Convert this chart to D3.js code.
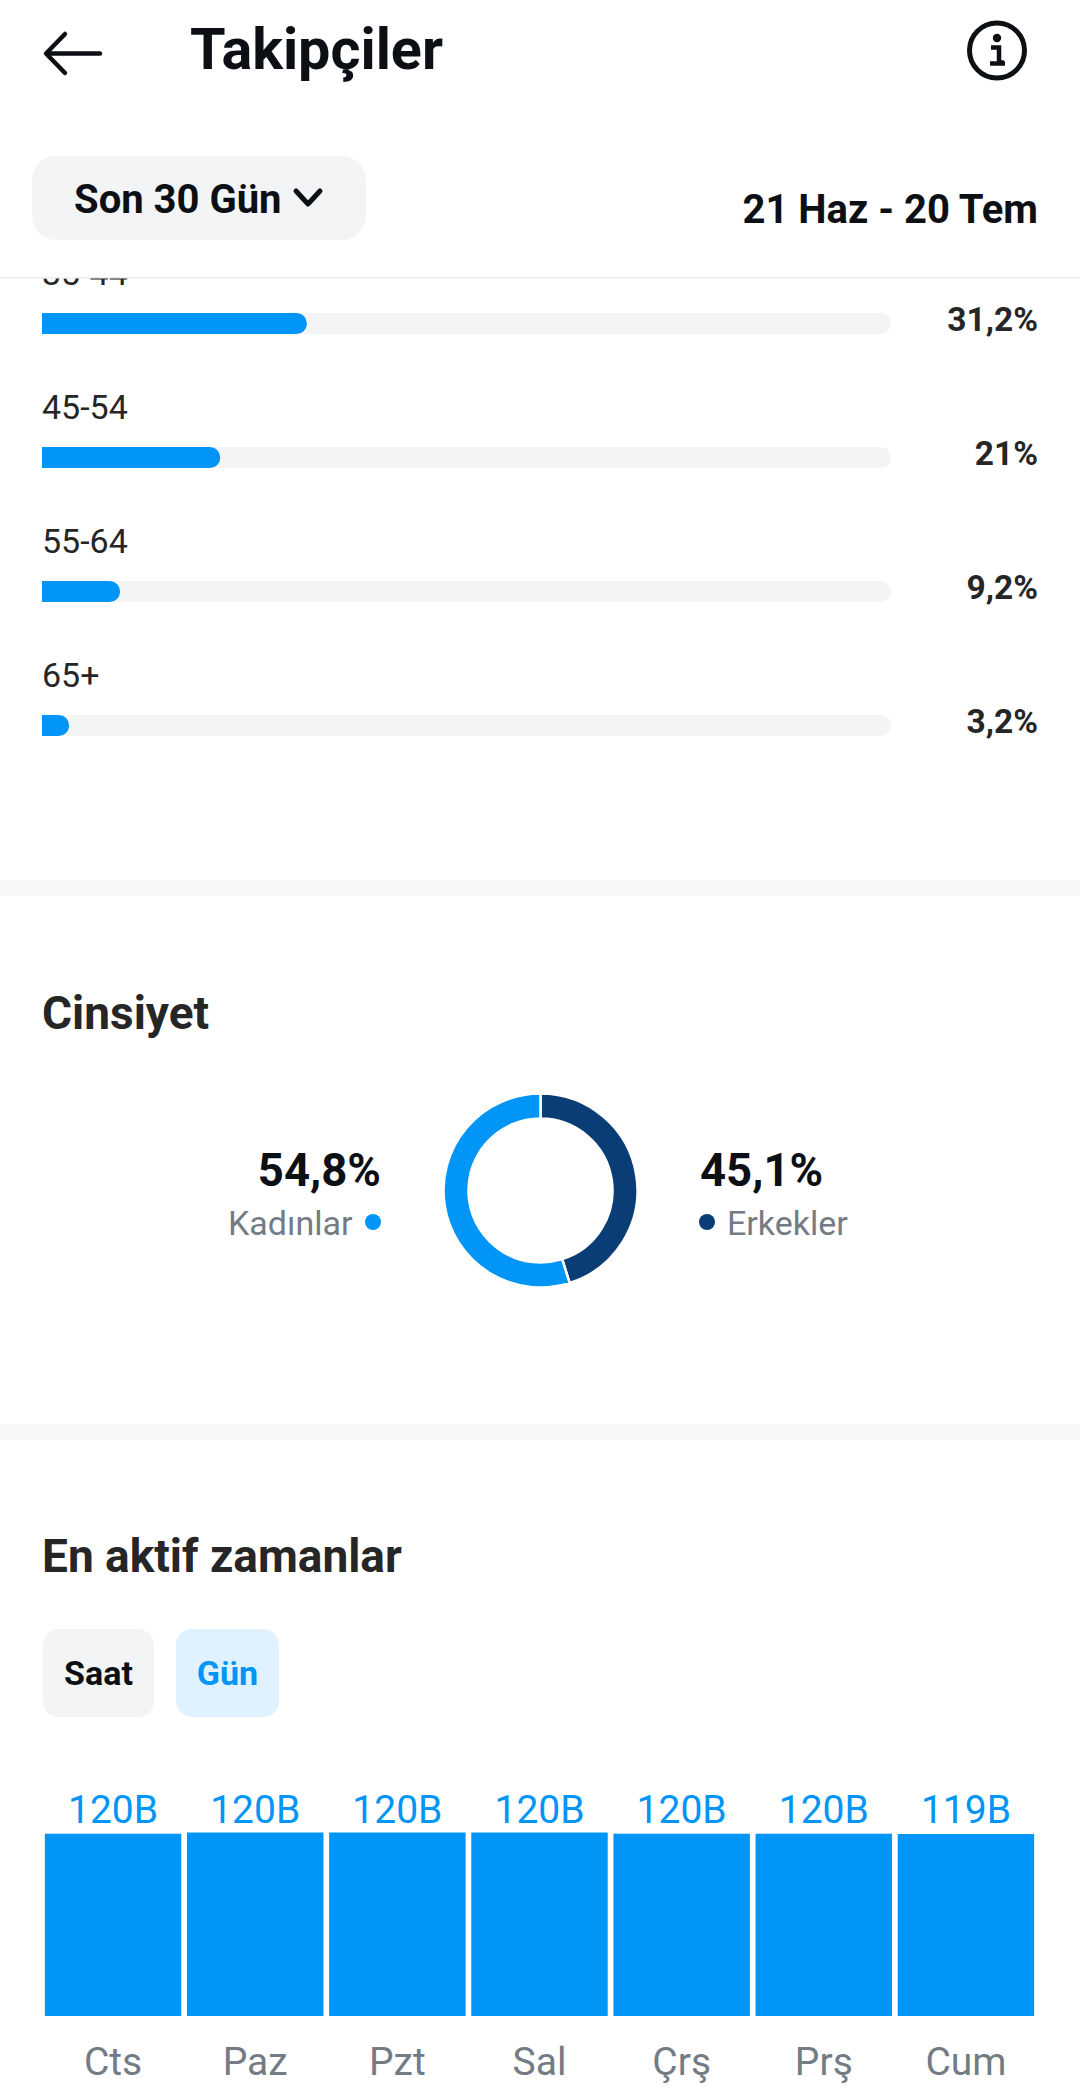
<!DOCTYPE html>
<html lang="tr">
<head>
<meta charset="utf-8">
<title>Takipçiler</title>
<script src="https://cdn.jsdelivr.net/npm/d3@7/dist/d3.min.js"></script>
<style>
html,body{margin:0;padding:0;background:#fff;}
svg{display:block;}
text{font-family:Roboto,"Noto Sans",sans-serif;}
.tick text{font-family:Roboto,"Noto Sans",sans-serif;}
</style>
</head>
<body>
<svg id="chart" width="1080" height="2091" viewBox="0 0 1080 2091"></svg>
<script>
const ageCategories = ["35-44", "45-54", "55-64", "65+"];
const ageValues = [31.2, 21, 9.2, 3.2];
const ageLabels = ["31,2%", "21%", "9,2%", "3,2%"];

const genderNames = ["Erkekler", "Kadınlar"];
const genderValues = [45.1, 54.8];
const genderLabels = ["45,1%", "54,8%"];

const dayNames = ["Cts", "Paz", "Pzt", "Sal", "Çrş", "Prş", "Cum"];
const dayValues = [119.6, 120.4, 120.4, 120.4, 119.6, 119.6, 119.4];
const dayLabels = ["120B", "120B", "120B", "120B", "120B", "120B", "119B"];

const BLUE = "#0095f6", NAVY = "#0a3d75", TRACK = "#f3f4f6", BAND = "#f7f8f8",
      INK = "#0c1014", DARK = "#262626", GREY = "#737b85";

const svg = d3.select("#chart");
svg.append("rect").attr("width", 1080).attr("height", 2091).attr("fill", "#fff");

/* ---------- age bars (scrolled under the header) ---------- */
svg.append("defs").append("clipPath").attr("id", "scrollClip")
  .append("rect").attr("x", 0).attr("y", 278).attr("width", 1080).attr("height", 1813);
const scroll = svg.append("g").attr("clip-path", "url(#scrollClip)");

const ageX = d3.scaleLinear().domain([0, 100]).range([42, 891]);
const ageY = d3.scalePoint().domain(ageCategories).range([313, 715]);
const barH = 21;

const rows = scroll.selectAll("g.row").data(ageCategories).join("g").attr("class", "row");
rows.append("text")
  .attr("x", 42).attr("y", d => ageY(d) - 28)
  .attr("font-size", 34).attr("fill", DARK)
  .text(d => d);
rows.append("rect")
  .attr("x", ageX(0)).attr("y", d => ageY(d))
  .attr("width", ageX(100) - ageX(0)).attr("height", barH)
  .attr("rx", barH / 2).attr("fill", TRACK);
rows.append("path")
  .attr("fill", BLUE)
  .attr("d", (d, i) => {
    const p = d3.path(), x0 = ageX(0), x1 = ageX(ageValues[i]), y = ageY(d), r = barH / 2;
    p.moveTo(x0, y);
    p.lineTo(x1 - r, y);
    p.arc(x1 - r, y + r, r, -Math.PI / 2, Math.PI / 2);
    p.lineTo(x0, y + barH);
    p.closePath();
    return p.toString();
  });
rows.append("text")
  .attr("x", 1038).attr("y", d => ageY(d) + 18)
  .attr("text-anchor", "end").attr("font-size", 33.5).attr("font-weight", 700).attr("fill", DARK)
  .text((d, i) => ageLabels[i]);

/* ---------- section bands ---------- */
svg.append("rect").attr("x", 0).attr("y", 880).attr("width", 1080).attr("height", 16).attr("fill", BAND);
svg.append("rect").attr("x", 0).attr("y", 1424).attr("width", 1080).attr("height", 16).attr("fill", BAND);

/* ---------- header ---------- */
svg.append("path")
  .attr("d", "M100,53.5 H47 M65,34 L46,53.5 L65,73")
  .attr("fill", "none").attr("stroke", INK).attr("stroke-width", 4.5)
  .attr("stroke-linecap", "round").attr("stroke-linejoin", "round");
svg.append("text").attr("x", 190).attr("y", 69)
  .attr("font-size", 57.5).attr("font-weight", 700).attr("fill", INK).text("Takipçiler");

const info = svg.append("g").attr("transform", "translate(997,50.5)");
info.append("circle").attr("r", 27.5).attr("fill", "none").attr("stroke", INK).attr("stroke-width", 5);
info.append("circle").attr("cx", 0).attr("cy", -12.5).attr("r", 4.2).attr("fill", INK);
info.append("path").attr("d", "M-6,-3 H2 V12 H7 M-7,13 H8")
  .attr("fill", "none").attr("stroke", INK).attr("stroke-width", 4.5);

svg.append("rect").attr("x", 32).attr("y", 156).attr("width", 334).attr("height", 84)
  .attr("rx", 24).attr("fill", TRACK);
svg.append("text").attr("x", 74).attr("y", 213)
  .attr("font-size", 40).attr("font-weight", 700).attr("fill", INK).text("Son 30 Gün");
svg.append("path").attr("d", "M296,191 L308,204 L320,191")
  .attr("fill", "none").attr("stroke", INK).attr("stroke-width", 5)
  .attr("stroke-linecap", "round").attr("stroke-linejoin", "round");
svg.append("text").attr("x", 1038).attr("y", 223).attr("text-anchor", "end")
  .attr("font-size", 40).attr("font-weight", 700).attr("fill", INK).text("21 Haz - 20 Tem");
svg.append("rect").attr("x", 0).attr("y", 277).attr("width", 1080).attr("height", 1.5).attr("fill", "#eceef0");

/* ---------- gender donut ---------- */
svg.append("text").attr("x", 42).attr("y", 1029)
  .attr("font-size", 46).attr("font-weight", 700).attr("fill", DARK).text("Cinsiyet");

const pie = d3.pie().sort(null)(genderValues);
const arc = d3.arc().innerRadius(72).outerRadius(97);
const genderColor = d3.scaleOrdinal().domain(genderNames).range([NAVY, BLUE]);
svg.append("g").attr("transform", "translate(540.5,1190.5)")
  .selectAll("path").data(pie).join("path")
  .attr("d", arc)
  .attr("fill", (d, i) => genderColor(genderNames[i]))
  .attr("stroke", "#fff").attr("stroke-width", 2.5);

svg.append("text").attr("x", 381).attr("y", 1186).attr("text-anchor", "end")
  .attr("font-size", 45.5).attr("font-weight", 700).attr("fill", INK).text(genderLabels[1]);
svg.append("text").attr("x", 352.5).attr("y", 1235).attr("text-anchor", "end")
  .attr("font-size", 34).attr("fill", GREY).text(genderNames[1]);
svg.append("circle").attr("cx", 373).attr("cy", 1222).attr("r", 8).attr("fill", genderColor(genderNames[1]));

svg.append("text").attr("x", 700).attr("y", 1186)
  .attr("font-size", 45.5).attr("font-weight", 700).attr("fill", INK).text(genderLabels[0]);
svg.append("circle").attr("cx", 707).attr("cy", 1222).attr("r", 8).attr("fill", genderColor(genderNames[0]));
svg.append("text").attr("x", 727).attr("y", 1235)
  .attr("font-size", 34).attr("fill", GREY).text(genderNames[0]);

/* ---------- most active times ---------- */
svg.append("text").attr("x", 42).attr("y", 1572)
  .attr("font-size", 46).attr("font-weight", 700).attr("fill", DARK).text("En aktif zamanlar");

svg.append("rect").attr("x", 43).attr("y", 1629).attr("width", 111).attr("height", 88).attr("rx", 16).attr("fill", TRACK);
svg.append("text").attr("x", 98.5).attr("y", 1685).attr("text-anchor", "middle")
  .attr("font-size", 34).attr("font-weight", 700).attr("fill", INK).text("Saat");
svg.append("rect").attr("x", 176).attr("y", 1629).attr("width", 103).attr("height", 88).attr("rx", 16).attr("fill", "#e0f1ff");
svg.append("text").attr("x", 227.5).attr("y", 1685).attr("text-anchor", "middle")
  .attr("font-size", 34).attr("font-weight", 700).attr("fill", BLUE).text("Gün");

const dayX = d3.scaleBand().domain(dayNames).range([42, 1037]).paddingInner(0.04).paddingOuter(0.02);
const dayY = d3.scaleLinear().domain([0, 120.4]).range([2016, 1832.5]);

svg.append("g").selectAll("rect").data(dayNames).join("rect")
  .attr("x", d => dayX(d)).attr("width", dayX.bandwidth())
  .attr("y", (d, i) => dayY(dayValues[i]))
  .attr("height", (d, i) => dayY(0) - dayY(dayValues[i]))
  .attr("fill", BLUE);

svg.append("g").selectAll("text").data(dayNames).join("text")
  .attr("x", d => dayX(d) + dayX.bandwidth() / 2)
  .attr("y", 1823)
  .attr("text-anchor", "middle").attr("font-size", 39).attr("fill", BLUE)
  .text((d, i) => dayLabels[i]);

const axis = svg.append("g").attr("transform", "translate(0,2016)")
  .call(d3.axisBottom(dayX).tickSize(0).tickPadding(31));
axis.select(".domain").remove();
axis.selectAll("text").attr("font-size", 39).attr("fill", GREY).attr("dy", "0.71em");
</script>
</body>
</html>
